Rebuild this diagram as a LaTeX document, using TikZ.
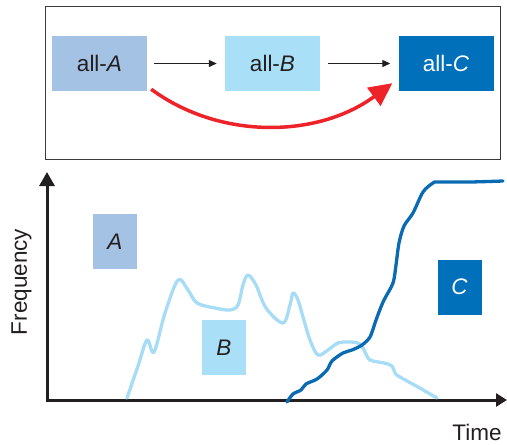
\documentclass[tikz,border=0pt]{standalone}
\usepackage{fontspec}
\setmainfont{Liberation Sans}
\usetikzlibrary{arrows.meta}
\definecolor{popA}{HTML}{A3C2E4}
\definecolor{popB}{HTML}{AADFF8}
\definecolor{popC}{HTML}{0070BA}
\definecolor{curveB}{HTML}{A6DCF6}
\definecolor{curveC}{HTML}{0A6BB3}
\definecolor{redarrow}{HTML}{EE2229}
\definecolor{frame}{HTML}{3A3A3A}
\definecolor{axis}{HTML}{231F20}
\tikzset{
  stagebox/.style={draw=none, inner sep=0pt, minimum width=95pt, minimum height=55pt,
    font=\fontsize{22.5}{26}\selectfont},
  tagbox/.style={draw=none, inner sep=0pt, minimum width=44pt, minimum height=55pt,
    font=\fontsize{22.5}{26}\selectfont\itshape},
  flow/.style={line width=1.2pt, axis, -{Triangle[length=8pt, width=7pt]}},
  axisline/.style={line width=3pt, axis},
  label/.style={font=\fontsize{22.5}{26}\selectfont, text=axis},
}
\begin{document}
\begin{tikzpicture}[x=1pt, y=-1pt]
  \useasboundingbox (0,0) rectangle (507,445);
  % scheme of the transitions
  \draw[frame, line width=1pt] (45,6) rectangle (500,159);
  \node[stagebox, fill=popA, text=axis] (allA) at (99.5,63.5) {all-\textit{A}};
  \node[stagebox, fill=popB, text=axis] (allB) at (272.5,63.5) {all-\textit{B}};
  \node[stagebox, fill=popC, text=white] (allC) at (446,63.5) {all-\textit{C}};
  \draw[flow] ([xshift=7pt]allA.east) -- ([xshift=-8pt]allB.west);
  \draw[flow] ([xshift=8pt]allB.east) -- ([xshift=-8pt]allC.west);
  \draw[redarrow, line width=3.5pt, -{Triangle[length=23pt, width=22pt]}]
    ([shift={(4pt,2pt)}]allA.south east) .. controls (220,140) and (318,138) ..
    ([shift={(-6pt,8pt)}]allC.south west);
  % frequency plot
  \coordinate (origin) at (47,400);
  \coordinate (ytip) at (47,172);
  \coordinate (xtip) at (507,400);
  \draw[axisline, -{Triangle[length=14pt, width=15pt]}] ([yshift=1.5pt]origin) -- (ytip);
  \draw[axisline, -{Triangle[length=11pt, width=13pt]}] ([xshift=-1.5pt]origin) -- (xtip);
  \node[label, rotate=90, anchor=base] (freq) at (27,282) {Frequency};
  \node[label, anchor=base] (time) at (477,440) {Time};
  \node[tagbox, fill=popA, text=axis] (tagA) at (115,241.5) {A};
  \node[tagbox, fill=popB, text=axis] (tagB) at (224,347.5) {B};
  \node[tagbox, fill=popC, text=white] (tagC) at (459.5,287) {C};
  % population B
  \draw[curveB, line width=3.3pt, line cap=round, line join=round]
    plot[smooth, tension=0.55] coordinates {
      (127,398) (138,366) (147,340) (154,352) (165,313) (178,280) (188,290)
      (197,303) (215,308) (230,310) (238,305) (243,285) (248,275) (256,285)
      (266,308) (283,323) (290,305) (293,293) (298,300) (303,317) (310,340)
      (318,355) (328,350) (338,343) (350,342) (360,344) (365,352) (370,360)
      (384,363) (392,366) (395,373) (400,377) (418,387) (437,398)};
  % population C
  \draw[curveC, line width=3.3pt, line cap=round, line join=round]
    plot[smooth, tension=0.5] coordinates {
      (287,402) (293,394) (301,390) (306,384) (317,379) (327,370) (332,361)
      (343,353) (352,350) (362,345) (370,337) (375,323) (379,312) (384,300)
      (393,283) (396,265) (399,243) (404,226) (413,213) (423,192) (433,183)
      (438,182) (470,182) (503,181)};
\end{tikzpicture}
\end{document}
